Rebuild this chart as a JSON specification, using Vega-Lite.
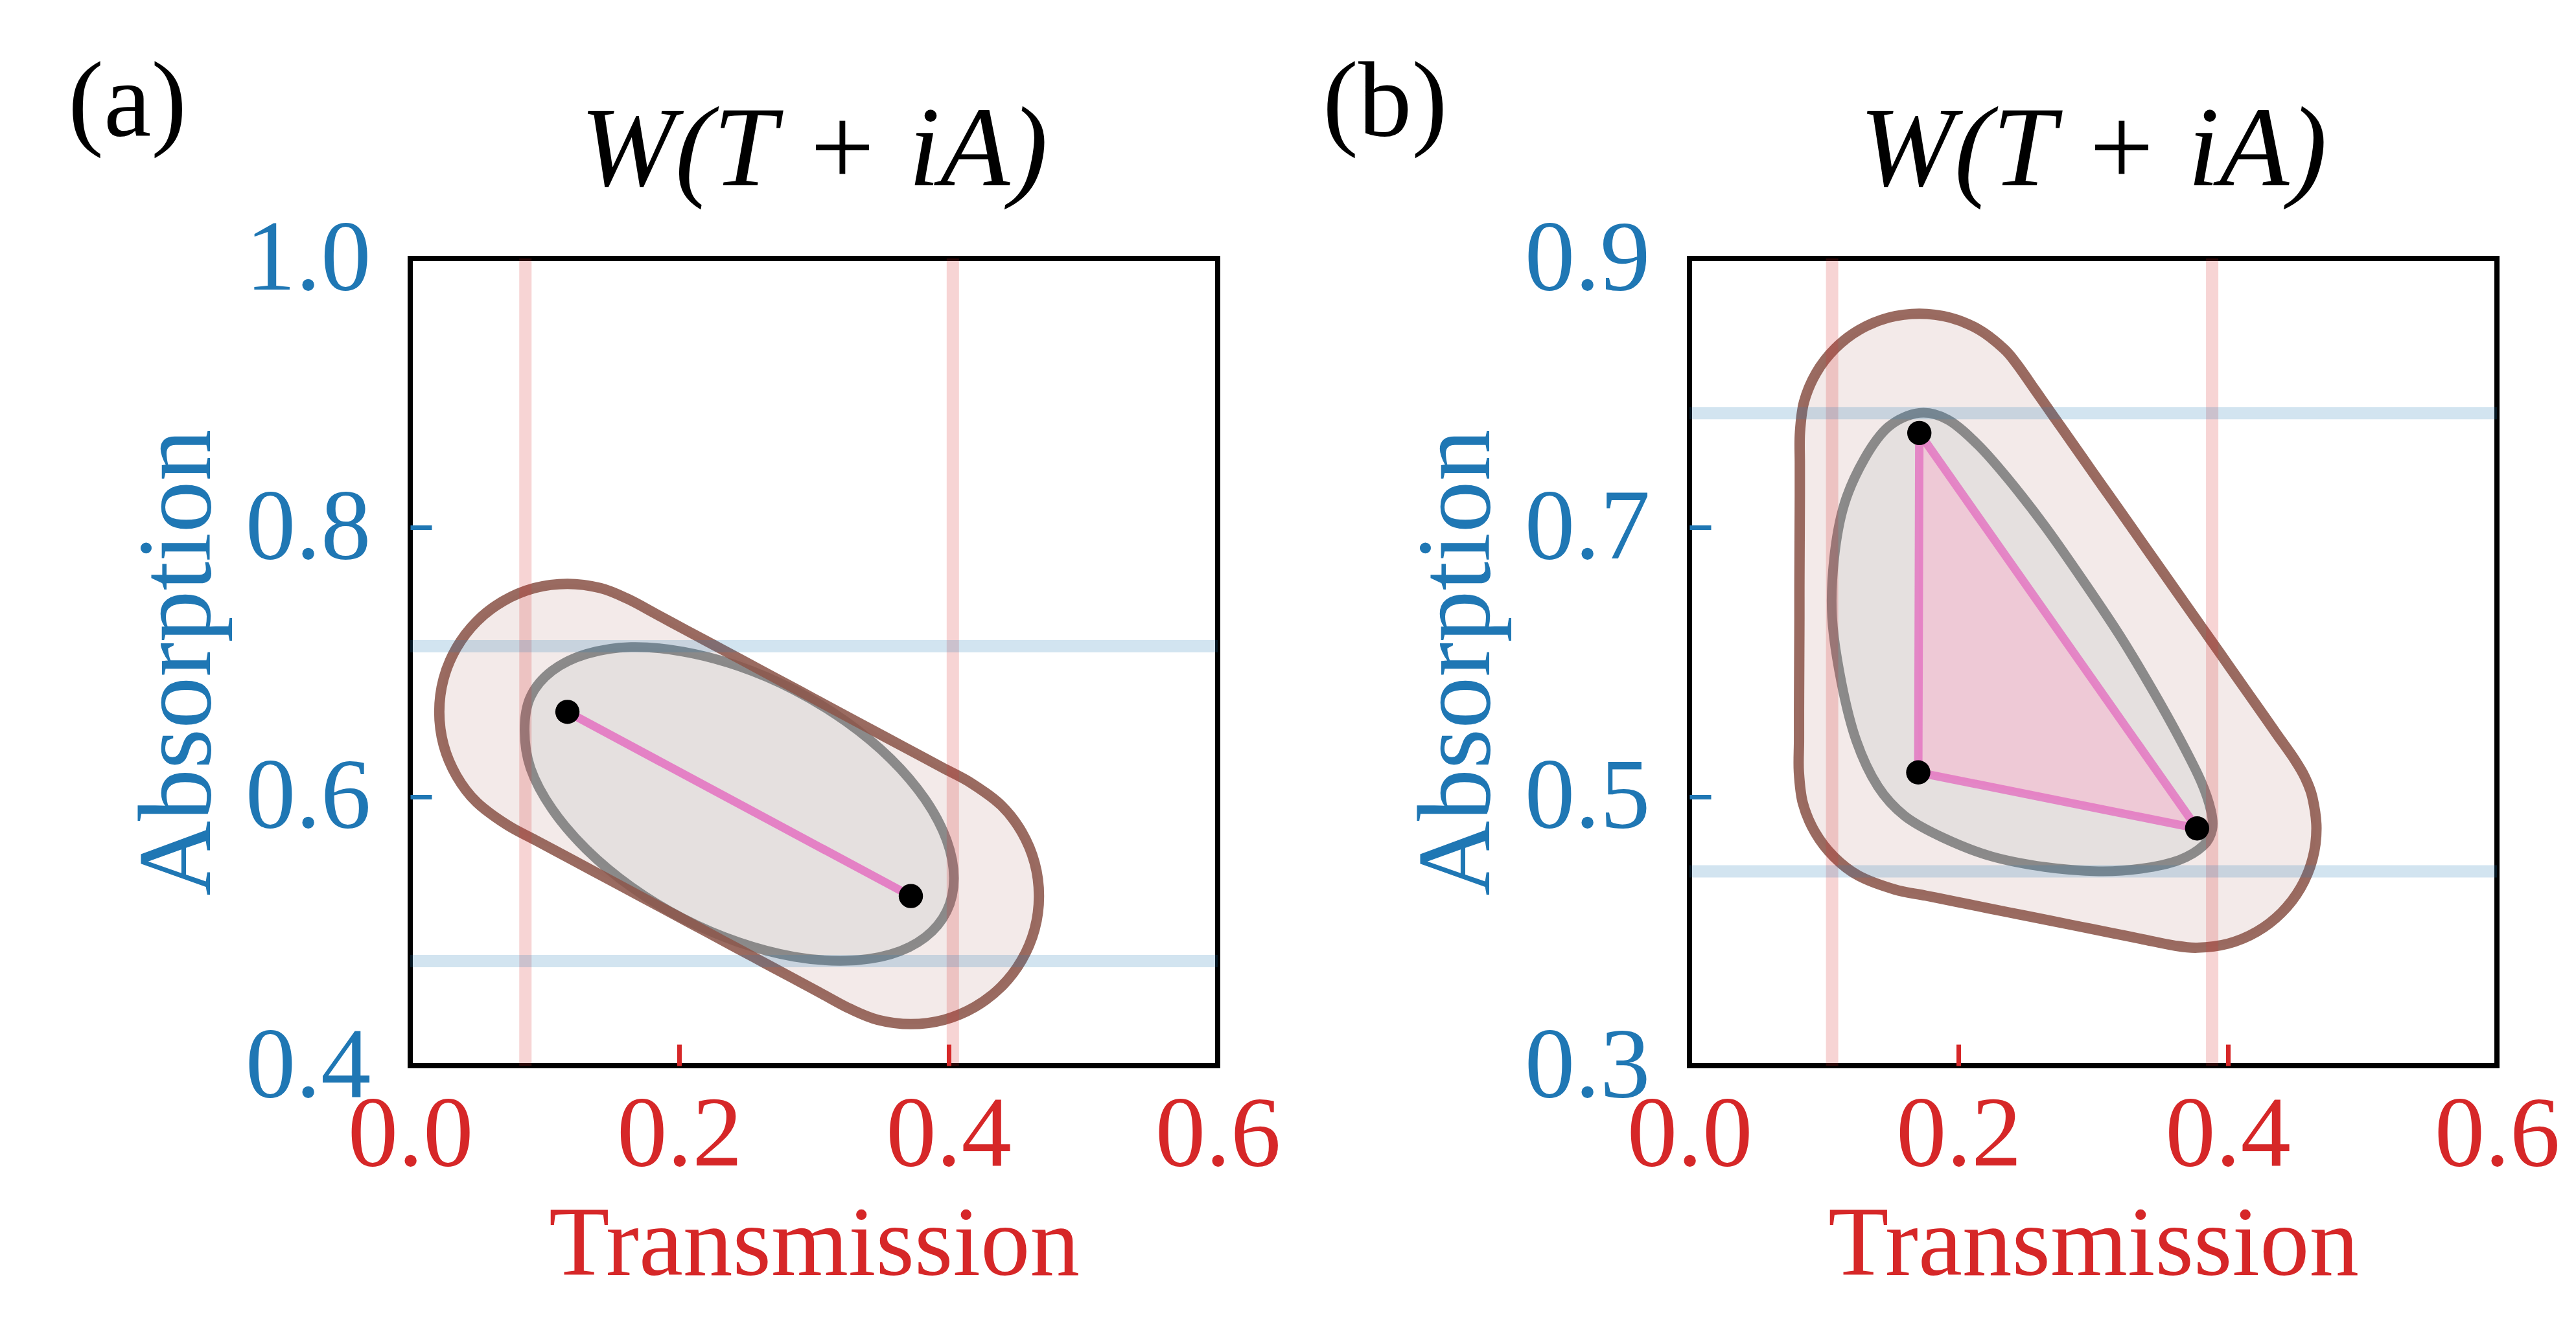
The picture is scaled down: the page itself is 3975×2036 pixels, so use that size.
{
  "$schema": "https://vega.github.io/schema/vega-lite/v6.json",
  "background": "white",
  "padding": {"left": 105, "top": 77, "right": 5, "bottom": 5},
  "spacing": 61,
  "config": {
    "view": {"stroke": "black", "strokeWidth": 8},
    "axis": {"domain": false, "grid": false, "tickSize": -33, "tickWidth": 7, "labelFont": "Liberation Serif, Times New Roman, DejaVu Serif, serif", "labelFontSize": 155, "labelLimit": 0, "titleFont": "Liberation Serif, Times New Roman, DejaVu Serif, serif", "titleFontWeight": "normal", "labelFlush": false, "labelOverlap": false},
    "axisX": {"labelColor": "#d62728", "tickColor": "#d62728", "titleColor": "#d62728", "labelPadding": 64, "titlePadding": 17, "titleFontSize": 153},
    "axisY": {"labelColor": "#1f77b4", "tickColor": "#1f77b4", "titleColor": "#1f77b4", "labelPadding": 94, "titlePadding": 76, "titleFontSize": 160},
    "title": {"font": "Liberation Serif, Times New Roman, DejaVu Serif, serif", "fontWeight": "normal", "color": "black"}
  },
  "datasets": {
    "a": [
      {"k":"o","i":0,"T":0.417,"A":0.610},{"k":"o","i":1,"T":0.4393,"A":0.5934},{"k":"o","i":2,"T":0.4544,"A":0.5737},{"k":"o","i":3,"T":0.464,"A":0.5507},{"k":"o","i":4,"T":0.4672,"A":0.5261},{"k":"o","i":5,"T":0.464,"A":0.5015},{"k":"o","i":6,"T":0.4544,"A":0.4785},{"k":"o","i":7,"T":0.4393,"A":0.4588},{"k":"o","i":8,"T":0.4196,"A":0.4437},{"k":"o","i":9,"T":0.3966,"A":0.4341},{"k":"o","i":10,"T":0.372,"A":0.4309},{"k":"o","i":11,"T":0.3474,"A":0.4341},{"k":"o","i":12,"T":0.327,"A":0.4422},
      {"k":"o","i":13,"T":0.3057,"A":0.4536},{"k":"o","i":14,"T":0.2845,"A":0.465},{"k":"o","i":15,"T":0.2632,"A":0.4764},{"k":"o","i":16,"T":0.2419,"A":0.4878},{"k":"o","i":17,"T":0.2206,"A":0.4993},{"k":"o","i":18,"T":0.1994,"A":0.5107},{"k":"o","i":19,"T":0.1781,"A":0.5221},{"k":"o","i":20,"T":0.1568,"A":0.5335},{"k":"o","i":21,"T":0.1356,"A":0.5449},{"k":"o","i":22,"T":0.1143,"A":0.5563},{"k":"o","i":23,"T":0.093,"A":0.5677},
      {"k":"o","i":24,"T":0.0718,"A":0.5791},{"k":"o","i":25,"T":0.0495,"A":0.5957},{"k":"o","i":26,"T":0.0344,"A":0.6154},{"k":"o","i":27,"T":0.0248,"A":0.6384},{"k":"o","i":28,"T":0.0216,"A":0.663},{"k":"o","i":29,"T":0.0248,"A":0.6876},{"k":"o","i":30,"T":0.0344,"A":0.7106},{"k":"o","i":31,"T":0.0495,"A":0.7303},{"k":"o","i":32,"T":0.0692,"A":0.7454},{"k":"o","i":33,"T":0.0922,"A":0.755},{"k":"o","i":34,"T":0.1168,"A":0.7582},{"k":"o","i":35,"T":0.1414,"A":0.755},{"k":"o","i":36,"T":0.1618,"A":0.7469},
      {"k":"o","i":37,"T":0.1831,"A":0.7355},{"k":"o","i":38,"T":0.2043,"A":0.7241},{"k":"o","i":39,"T":0.2256,"A":0.7127},{"k":"o","i":40,"T":0.2469,"A":0.7013},{"k":"o","i":41,"T":0.2681,"A":0.6899},{"k":"o","i":42,"T":0.2894,"A":0.6785},{"k":"o","i":43,"T":0.3107,"A":0.667},{"k":"o","i":44,"T":0.332,"A":0.6556},{"k":"o","i":45,"T":0.3532,"A":0.6442},{"k":"o","i":46,"T":0.3745,"A":0.6328},{"k":"o","i":47,"T":0.3958,"A":0.6214},
      {"k":"e","i":0,"T":0.404,"A":0.5393},{"k":"e","i":1,"T":0.3986,"A":0.5147},{"k":"e","i":2,"T":0.3826,"A":0.4954},{"k":"e","i":3,"T":0.3571,"A":0.4828},{"k":"e","i":4,"T":0.324,"A":0.478},{"k":"e","i":5,"T":0.2854,"A":0.481},{"k":"e","i":6,"T":0.244,"A":0.4918},{"k":"e","i":7,"T":0.2026,"A":0.5095},{"k":"e","i":8,"T":0.164,"A":0.5331},{"k":"e","i":9,"T":0.1309,"A":0.5608},{"k":"e","i":10,"T":0.1054,"A":0.5908},{"k":"e","i":11,"T":0.0894,"A":0.6211},{"k":"e","i":12,"T":0.085,"A":0.6495},{"k":"e","i":13,"T":0.0894,"A":0.6742},{"k":"e","i":14,"T":0.1054,"A":0.6935},{"k":"e","i":15,"T":0.1309,"A":0.706},{"k":"e","i":16,"T":0.164,"A":0.7112},{"k":"e","i":17,"T":0.2026,"A":0.7078},{"k":"e","i":18,"T":0.244,"A":0.697},{"k":"e","i":19,"T":0.2854,"A":0.6793},{"k":"e","i":20,"T":0.324,"A":0.6557},{"k":"e","i":21,"T":0.3571,"A":0.6281},{"k":"e","i":22,"T":0.3826,"A":0.598},{"k":"e","i":23,"T":0.3986,"A":0.5677},
      {"k":"s","i":0,"T":0.1168,"A":0.663},{"k":"s","i":1,"T":0.372,"A":0.5261},
      {"k":"p","i":0,"T":0.1168,"A":0.663},{"k":"p","i":1,"T":0.372,"A":0.5261},
      {"k":"vt","i":0,"T":0.0856,"A":null},{"k":"vt","i":1,"T":0.4032,"A":null},
      {"k":"ha","i":0,"T":null,"A":0.7118},{"k":"ha","i":1,"T":null,"A":0.4778}
    ],
    "b": [
      {"k":"o","i":0,"T":0.2434,"A":0.8213},{"k":"o","i":1,"T":0.2335,"A":0.833},{"k":"o","i":2,"T":0.2152,"A":0.8471},{"k":"o","i":3,"T":0.1938,"A":0.856},{"k":"o","i":4,"T":0.1708,"A":0.859},{"k":"o","i":5,"T":0.1478,"A":0.856},{"k":"o","i":6,"T":0.1264,"A":0.8471},{"k":"o","i":7,"T":0.1081,"A":0.833},{"k":"o","i":8,"T":0.094,"A":0.8147},{"k":"o","i":9,"T":0.0851,"A":0.7933},{"k":"o","i":10,"T":0.0821,"A":0.7706},
      {"k":"o","i":11,"T":0.082,"A":0.7477},{"k":"o","i":12,"T":0.082,"A":0.7247},{"k":"o","i":13,"T":0.0819,"A":0.7018},{"k":"o","i":14,"T":0.0818,"A":0.6788},{"k":"o","i":15,"T":0.0817,"A":0.6559},{"k":"o","i":16,"T":0.0817,"A":0.633},{"k":"o","i":17,"T":0.0816,"A":0.61},{"k":"o","i":18,"T":0.0815,"A":0.5871},{"k":"o","i":19,"T":0.0814,"A":0.5641},{"k":"o","i":20,"T":0.0814,"A":0.5412},
      {"k":"o","i":21,"T":0.0813,"A":0.5183},{"k":"o","i":22,"T":0.0843,"A":0.495},{"k":"o","i":23,"T":0.0932,"A":0.4737},{"k":"o","i":24,"T":0.1073,"A":0.4553},{"k":"o","i":25,"T":0.1257,"A":0.4412},{"k":"o","i":26,"T":0.1525,"A":0.431},
      {"k":"o","i":27,"T":0.1755,"A":0.4264},{"k":"o","i":28,"T":0.1985,"A":0.4218},{"k":"o","i":29,"T":0.2216,"A":0.4171},{"k":"o","i":30,"T":0.2446,"A":0.4125},{"k":"o","i":31,"T":0.2676,"A":0.4079},{"k":"o","i":32,"T":0.2906,"A":0.4033},{"k":"o","i":33,"T":0.3136,"A":0.3987},{"k":"o","i":34,"T":0.3367,"A":0.394},
      {"k":"o","i":35,"T":0.3597,"A":0.3894},{"k":"o","i":36,"T":0.3772,"A":0.3877},{"k":"o","i":37,"T":0.4002,"A":0.3907},{"k":"o","i":38,"T":0.4216,"A":0.3996},{"k":"o","i":39,"T":0.4399,"A":0.4137},{"k":"o","i":40,"T":0.454,"A":0.432},{"k":"o","i":41,"T":0.4629,"A":0.4534},{"k":"o","i":42,"T":0.4659,"A":0.4764},{"k":"o","i":43,"T":0.4629,"A":0.4994},{"k":"o","i":44,"T":0.4576,"A":0.5139},{"k":"o","i":45,"T":0.4498,"A":0.5274},
      {"k":"o","i":46,"T":0.436,"A":0.547},{"k":"o","i":47,"T":0.4223,"A":0.5666},{"k":"o","i":48,"T":0.4085,"A":0.5862},{"k":"o","i":49,"T":0.3948,"A":0.6058},{"k":"o","i":50,"T":0.381,"A":0.6254},{"k":"o","i":51,"T":0.3672,"A":0.645},{"k":"o","i":52,"T":0.3535,"A":0.6645},{"k":"o","i":53,"T":0.3397,"A":0.6841},{"k":"o","i":54,"T":0.326,"A":0.7037},{"k":"o","i":55,"T":0.3122,"A":0.7233},{"k":"o","i":56,"T":0.2984,"A":0.7429},{"k":"o","i":57,"T":0.2847,"A":0.7625},{"k":"o","i":58,"T":0.2709,"A":0.7821},{"k":"o","i":59,"T":0.2572,"A":0.8017},
      {"k":"e","i":0,"T":0.1708,"A":0.7852},{"k":"e","i":1,"T":0.192,"A":0.7802},{"k":"e","i":2,"T":0.214,"A":0.7619},{"k":"e","i":3,"T":0.236,"A":0.7371},{"k":"e","i":4,"T":0.264,"A":0.7012},{"k":"e","i":5,"T":0.292,"A":0.6613},{"k":"e","i":6,"T":0.32,"A":0.6194},{"k":"e","i":7,"T":0.344,"A":0.5794},{"k":"e","i":8,"T":0.364,"A":0.5435},{"k":"e","i":9,"T":0.38,"A":0.5116},{"k":"e","i":10,"T":0.3875,"A":0.4896},{"k":"e","i":11,"T":0.3884,"A":0.4756},{"k":"e","i":12,"T":0.382,"A":0.4637},{"k":"e","i":13,"T":0.364,"A":0.4529},{"k":"e","i":14,"T":0.336,"A":0.4465},{"k":"e","i":15,"T":0.304,"A":0.4445},{"k":"e","i":16,"T":0.264,"A":0.4477},{"k":"e","i":17,"T":0.224,"A":0.4557},{"k":"e","i":18,"T":0.188,"A":0.4697},{"k":"e","i":19,"T":0.16,"A":0.4856},{"k":"e","i":20,"T":0.14,"A":0.5076},{"k":"e","i":21,"T":0.124,"A":0.5415},{"k":"e","i":22,"T":0.1128,"A":0.5854},{"k":"e","i":23,"T":0.106,"A":0.6333},{"k":"e","i":24,"T":0.1075,"A":0.6772},{"k":"e","i":25,"T":0.115,"A":0.7172},{"k":"e","i":26,"T":0.13,"A":0.7511},{"k":"e","i":27,"T":0.148,"A":0.775},
      {"k":"s","i":0,"T":0.1708,"A":0.7703},{"k":"s","i":1,"T":0.17,"A":0.518},{"k":"s","i":2,"T":0.3772,"A":0.4764},{"k":"s","i":3,"T":0.1708,"A":0.7703},
      {"k":"p","i":0,"T":0.1708,"A":0.7703},{"k":"p","i":1,"T":0.17,"A":0.518},{"k":"p","i":2,"T":0.3772,"A":0.4764},
      {"k":"vt","i":0,"T":0.106,"A":null},{"k":"vt","i":1,"T":0.3884,"A":null},
      {"k":"ha","i":0,"T":null,"A":0.785},{"k":"ha","i":1,"T":null,"A":0.4445}
    ]
  },
  "hconcat": [
    {
      "title": {"text": "(a)", "anchor": "start", "frame": "bounds", "fontSize": 165, "baseline": "alphabetic", "offset": 0, "dx": -86, "dy": 233},
      "vconcat": [
        {
          "width": 1246, "height": 1246,
          "title": {"text": "W(T + iA)", "fontStyle": "italic", "fontSize": 176, "baseline": "alphabetic", "offset": -140, "anchor": "middle", "frame": "group"},
          "data": {"name": "a"},
          "layer": [
            {"transform": [{"filter": "datum.k == 'o'"}], "mark": {"type": "line", "interpolate": "cardinal-closed", "fill": "#f3eae9", "fillOpacity": 1, "strokeOpacity": 0},
             "encoding": {
               "x": {"field": "T", "type": "quantitative", "title": "Transmission", "scale": {"domain": [0, 0.6], "nice": false, "zero": false}, "axis": {"values": [0, 0.2, 0.4, 0.6], "format": ".1f", "tickOpacity": {"condition": {"test": "datum.value < 0.01 || datum.value > 0.59", "value": 0}, "value": 1}}},
               "y": {"field": "A", "type": "quantitative", "title": "Absorption", "scale": {"domain": [0.4, 1.0], "nice": false, "zero": false}, "axis": {"values": [0.4, 0.6, 0.8, 1.0], "format": ".1f", "tickOpacity": {"condition": {"test": "datum.value < 0.41 || datum.value > 0.99", "value": 0}, "value": 1}}},
               "order": {"field": "i"}}},
            {"transform": [{"filter": "datum.k == 'e'"}], "mark": {"type": "line", "interpolate": "cardinal-closed", "fill": "#e5e0df", "fillOpacity": 1, "stroke": "#7f7f7f", "strokeOpacity": 0.9, "strokeWidth": 15, "strokeJoin": "round"},
             "encoding": {"x": {"field": "T", "type": "quantitative", "title": "Transmission"}, "y": {"field": "A", "type": "quantitative", "title": "Absorption"}, "order": {"field": "i"}}},
            {"transform": [{"filter": "datum.k == 's'"}], "mark": {"type": "line", "stroke": "#e377c2", "strokeOpacity": 0.9, "strokeWidth": 13},
             "encoding": {"x": {"field": "T", "type": "quantitative", "title": "Transmission"}, "y": {"field": "A", "type": "quantitative", "title": "Absorption"}, "order": {"field": "i"}}},
            {"transform": [{"filter": "datum.k == 'o'"}], "mark": {"type": "line", "interpolate": "cardinal-closed", "stroke": "#8c564b", "strokeOpacity": 0.88, "strokeWidth": 16, "strokeJoin": "round"},
             "encoding": {"x": {"field": "T", "type": "quantitative", "title": "Transmission"}, "y": {"field": "A", "type": "quantitative", "title": "Absorption"}, "order": {"field": "i"}}},
            {"transform": [{"filter": "datum.k == 'vt'"}], "mark": {"type": "rule", "color": "#d62728", "opacity": 0.2, "strokeWidth": 19},
             "encoding": {"x": {"field": "T", "type": "quantitative", "title": "Transmission"}}},
            {"transform": [{"filter": "datum.k == 'ha'"}], "mark": {"type": "rule", "color": "#1f77b4", "opacity": 0.2, "strokeWidth": 19},
             "encoding": {"y": {"field": "A", "type": "quantitative", "title": "Absorption"}}},
            {"transform": [{"filter": "datum.k == 'p'"}], "mark": {"type": "circle", "color": "black", "opacity": 1, "size": 1400},
             "encoding": {"x": {"field": "T", "type": "quantitative", "title": "Transmission"}, "y": {"field": "A", "type": "quantitative", "title": "Absorption"}}}
          ]
        }
      ]
    },
    {
      "title": {"text": "(b)", "anchor": "start", "frame": "bounds", "fontSize": 165, "baseline": "alphabetic", "offset": 0, "dx": -124, "dy": 233},
      "vconcat": [
        {
          "width": 1246, "height": 1246,
          "title": {"text": "W(T + iA)", "fontStyle": "italic", "fontSize": 176, "baseline": "alphabetic", "offset": -140, "anchor": "middle", "frame": "group"},
          "data": {"name": "b"},
          "layer": [
            {"transform": [{"filter": "datum.k == 'o'"}], "mark": {"type": "line", "interpolate": "cardinal-closed", "fill": "#f3eae9", "fillOpacity": 1, "strokeOpacity": 0},
             "encoding": {
               "x": {"field": "T", "type": "quantitative", "title": "Transmission", "scale": {"domain": [0, 0.6], "nice": false, "zero": false}, "axis": {"values": [0, 0.2, 0.4, 0.6], "format": ".1f", "tickOpacity": {"condition": {"test": "datum.value < 0.01 || datum.value > 0.59", "value": 0}, "value": 1}}},
               "y": {"field": "A", "type": "quantitative", "title": "Absorption", "scale": {"domain": [0.3, 0.9], "nice": false, "zero": false}, "axis": {"values": [0.3, 0.5, 0.7, 0.9], "format": ".1f", "tickOpacity": {"condition": {"test": "datum.value < 0.31 || datum.value > 0.89", "value": 0}, "value": 1}}},
               "order": {"field": "i"}}},
            {"transform": [{"filter": "datum.k == 'e'"}], "mark": {"type": "line", "interpolate": "cardinal-closed", "fill": "#e5e0df", "fillOpacity": 1, "stroke": "#7f7f7f", "strokeOpacity": 0.9, "strokeWidth": 15, "strokeJoin": "round"},
             "encoding": {"x": {"field": "T", "type": "quantitative", "title": "Transmission"}, "y": {"field": "A", "type": "quantitative", "title": "Absorption"}, "order": {"field": "i"}}},
            {"transform": [{"filter": "datum.k == 's'"}], "mark": {"type": "line", "fill": "#eec9d6", "fillOpacity": 1, "stroke": "#e377c2", "strokeOpacity": 0.85, "strokeWidth": 13, "strokeJoin": "round"},
             "encoding": {"x": {"field": "T", "type": "quantitative", "title": "Transmission"}, "y": {"field": "A", "type": "quantitative", "title": "Absorption"}, "order": {"field": "i"}}},
            {"transform": [{"filter": "datum.k == 'o'"}], "mark": {"type": "line", "interpolate": "cardinal-closed", "stroke": "#8c564b", "strokeOpacity": 0.88, "strokeWidth": 16, "strokeJoin": "round"},
             "encoding": {"x": {"field": "T", "type": "quantitative", "title": "Transmission"}, "y": {"field": "A", "type": "quantitative", "title": "Absorption"}, "order": {"field": "i"}}},
            {"transform": [{"filter": "datum.k == 'vt'"}], "mark": {"type": "rule", "color": "#d62728", "opacity": 0.2, "strokeWidth": 19},
             "encoding": {"x": {"field": "T", "type": "quantitative", "title": "Transmission"}}},
            {"transform": [{"filter": "datum.k == 'ha'"}], "mark": {"type": "rule", "color": "#1f77b4", "opacity": 0.2, "strokeWidth": 19},
             "encoding": {"y": {"field": "A", "type": "quantitative", "title": "Absorption"}}},
            {"transform": [{"filter": "datum.k == 'p'"}], "mark": {"type": "circle", "color": "black", "opacity": 1, "size": 1400},
             "encoding": {"x": {"field": "T", "type": "quantitative", "title": "Transmission"}, "y": {"field": "A", "type": "quantitative", "title": "Absorption"}}}
          ]
        }
      ]
    }
  ]
}
